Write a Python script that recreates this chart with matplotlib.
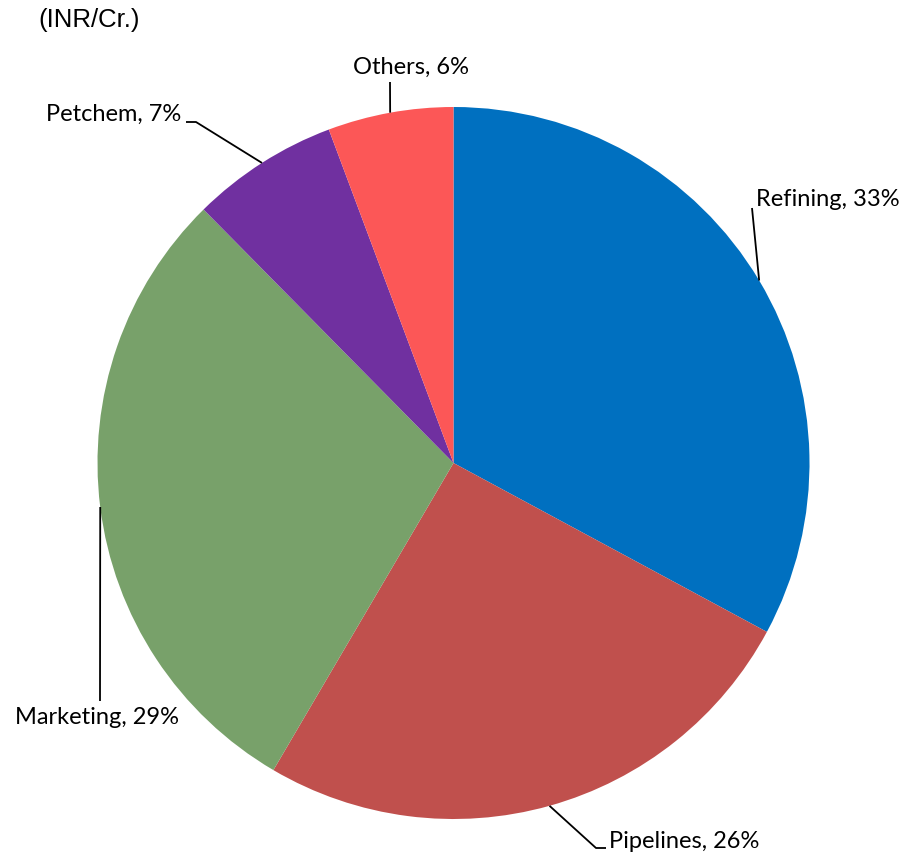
import numpy as np
import matplotlib
matplotlib.use("Agg")
import matplotlib.pyplot as plt

categories = ["Refining", "Pipelines", "Marketing", "Petchem", "Others"]
values = [32.9, 25.6, 29.2, 6.7, 5.7]
colors = ["#0070C0", "#C0504D", "#78A16A", "#7030A0", "#FC5757"]
unit_label = "(INR/Cr.)"

W, H = 919, 856
fig = plt.figure(figsize=(W / 100, H / 100), dpi=100)
ax = fig.add_axes([0, 0, 1, 1])


def Y(py):
    return H - py


cx, cy, R = 453.5, 463, 356
ax.pie(values, colors=colors, startangle=90, counterclock=False,
       center=(cx, Y(cy)), radius=R, frame=True,
       wedgeprops=dict(linewidth=0))
ax.set_xlim(0, W)
ax.set_ylim(0, H)
ax.set_aspect("equal")
ax.axis("off")

layout = {
    "Refining": [(752, 208)],
    "Pipelines": [(596, 848), (606, 848)],
    "Marketing": [(100, 701)],
    "Petchem": [(196, 122), (186, 122)],
    "Others": [(390, 82)],
}
text_pos = {
    "Refining": (756, 199, "left", "center"),
    "Pipelines": (609, 841, "left", "center"),
    "Marketing": (97, 718, "center", "center"),
    "Petchem": (181, 114, "right", "center"),
    "Others": (411, 67, "center", "center"),
}

total = sum(values)
cum = 0.0
for cat, v in zip(categories, values):
    mid = (cum + v / 2) / total * 360.0
    cum += v
    ang = np.deg2rad(mid)
    px = cx + R * np.sin(ang)
    py = cy - R * np.cos(ang)
    pts = [(px, py)] + layout[cat]
    xs = [p[0] for p in pts]
    ys = [Y(p[1]) for p in pts]
    ax.plot(xs, ys, color="black", lw=1.3, solid_capstyle="butt")
    tx, ty, ha, va = text_pos[cat]
    ax.text(tx, Y(ty), f"{cat}, {round(v / total * 100):.0f}%", ha=ha, va=va,
            fontsize=17, family=["Lato", "DejaVu Sans"], color="black")

ax.text(38, Y(20), unit_label, ha="left", va="center", fontsize=18.5,
        family=["Liberation Sans", "DejaVu Sans"], color="black")

fig.savefig("out.png", dpi=100)
